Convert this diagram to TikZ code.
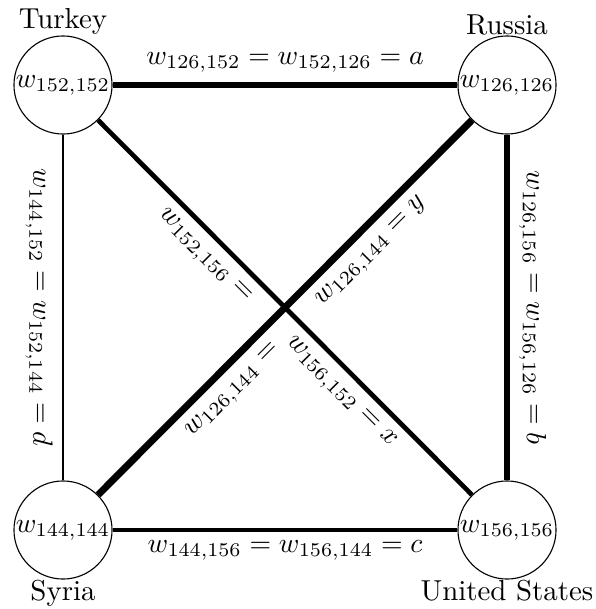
\documentclass[tikz,border=0pt]{standalone}
\begin{document}
\begin{tikzpicture}[x=0.36pt,y=-0.36pt,
  city/.style={draw, circle, inner sep=0pt, minimum size=35.3pt, line width=0.4pt},
  country/.style={inner sep=0pt, font=\fontsize{10.4}{12}\selectfont},
  wa/.style={line width=2.5pt},
  wb/.style={line width=2.0pt},
  wc/.style={line width=1.1pt},
  wd/.style={line width=0.7pt},
  wx/.style={line width=1.7pt},
  wy/.style={line width=2.5pt}]
\useasboundingbox (0,0) rectangle (595,609);
\node[city, label={[country]above:Turkey}] (T) at (63,85) {$w_{152,152}$};
\node[city, label={[country]above:Russia}] (R) at (507,85) {$w_{126,126}$};
\node[city, label={[country]below:Syria}] (S) at (63,530) {$w_{144,144}$};
\node[city, label={[country]below:United States}] (U) at (507,530) {$w_{156,156}$};
\draw[wa] (T) -- node[above] (la) {$w_{126,152} = w_{152,126} = a$} (R);
\draw[wc] (S) -- node[below] (lc) {$w_{144,156} = w_{156,144} = c$} (U);
\draw[wd] (T) -- node[rotate=-90, anchor=north] (ld) {$w_{144,152} = w_{152,144} = d$} (S);
\draw[wb] (R) -- node[rotate=-90, anchor=south] (lb) {$w_{126,156} = w_{156,126} = b$} (U);
\draw[wx] (T) -- node[sloped, below, pos=0.324] (lx1) {$w_{152,156} =$}
                 node[sloped, below, pos=0.687] (lx2) {$w_{156,152} = x$} (U);
\draw[wy] (S) -- node[sloped, below, pos=0.32] (ly1) {$w_{126,144} =$}
                 node[sloped, below, pos=0.69] (ly2) {$w_{126,144} = y$} (R);
\end{tikzpicture}
\end{document}
